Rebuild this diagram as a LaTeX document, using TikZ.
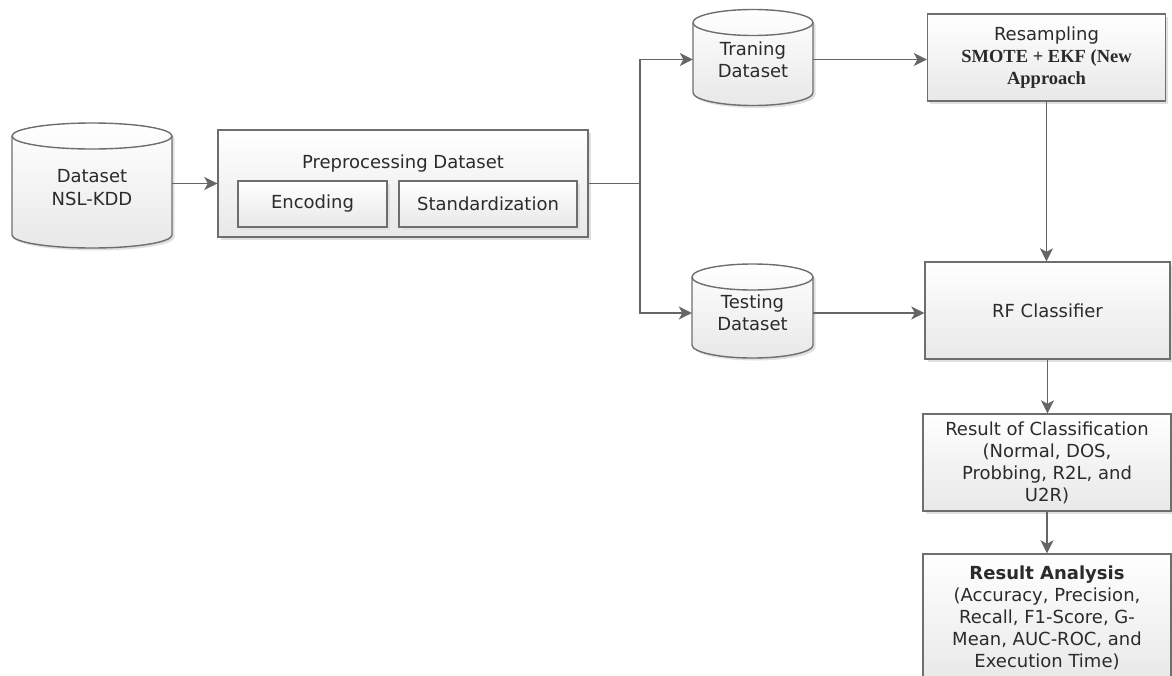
\documentclass[tikz,border=0pt]{standalone}
\usepackage{fontspec}
\setmainfont{DejaVu Sans}
\newfontfamily\serifbf{Liberation Serif}
\usetikzlibrary{arrows.meta,shadows,calc}
\definecolor{edgecol}{HTML}{6E6E6E}
\definecolor{conncol}{HTML}{666666}
\definecolor{txtcol}{HTML}{2B2B2B}
\tikzset{
  boxstyle/.style={draw=edgecol, line width=1.4pt, top color=white, bottom color=black!9,
    drop shadow={shadow xshift=2.5pt, shadow yshift=-2.5pt, fill=black!12, opacity=1},
    text=txtcol, align=center, font=\fontsize{18}{22}\selectfont, inner sep=0pt},
  cylfill/.style={draw=edgecol, line width=1.4pt, top color=white, bottom color=black!9,
    drop shadow={shadow xshift=2.5pt, shadow yshift=-2.5pt, fill=black!12, opacity=1}},
  cyledge/.style={draw=edgecol, line width=1.4pt},
  cyltext/.style={text=txtcol, align=center, font=\fontsize{18}{22}\selectfont, inner sep=0pt},
  connarrow/.style={draw=conncol, line width=1.6pt, -{Stealth[length=13pt,width=13pt,inset=3.5pt]}},
  plainline/.style={draw=conncol, line width=1.6pt},
}
\newcommand\dbcyl[6]{%
  \begin{scope}[shift={(#2,#3)}, x=1pt, y=1pt]
    \path[cylfill] (-#4/2,#5/2-13) -- (-#4/2,-#5/2+13)
      arc[start angle=180,end angle=360,x radius=#4/2,y radius=13]
      -- (#4/2,#5/2-13)
      arc[start angle=0,end angle=180,x radius=#4/2,y radius=13] -- cycle;
    \draw[cyledge] (-#4/2,#5/2-13) arc[start angle=180,end angle=360,x radius=#4/2,y radius=13];
    \node[cyltext, minimum width=#4pt, minimum height=#5pt] (#1) at (0,-2) {#6};
  \end{scope}}
\begin{document}
\begin{tikzpicture}[x=1pt,y=-1pt]
\clip (0,0) rectangle (1172,675);
\useasboundingbox (0,0) rectangle (1172,675);

% cylinders
\dbcyl{ds}{92}{185.5}{160}{125}{Dataset\\[1pt]NSL-KDD}
\dbcyl{tr}{753}{57.5}{120}{96}{Traning\\Dataset}
\dbcyl{te}{752.5}{311}{121}{94}{Testing\\Dataset}

% preprocessing
\node[boxstyle, minimum width=370pt, minimum height=107pt] (pre) at (403,183.5) {};
\node[text=txtcol, font=\fontsize{18}{22}\selectfont] (pretitle) at (403,164) {Preprocessing Dataset};
\node[boxstyle, minimum width=149pt, minimum height=46pt] (enc) at (312.5,204) {Encoding};
\node[boxstyle, minimum width=178pt, minimum height=46pt] (std) at (488,204) {Standardization};

% right column
\node[boxstyle, minimum width=238pt, minimum height=87pt] (rs) at (1046.5,57.5)
  {Resampling\\ {\serifbf\bfseries\fontsize{18.5}{22}\selectfont SMOTE + EKF (New}\\ {\serifbf\bfseries\fontsize{18.5}{22}\selectfont Approach}};
\node[boxstyle, minimum width=245pt, minimum height=97pt] (rf) at (1047.5,310.5) {RF Classifier};
\node[boxstyle, minimum width=248pt, minimum height=97pt] (rc) at (1047,462.5)
  {Result of Classification\\(Normal, DOS,\\Probbing, R2L, and\\U2R)};
\node[boxstyle, minimum width=248pt, minimum height=128pt] (ra) at (1047,618)
  {\textbf{Result Analysis}\\(Accuracy, Precision,\\Recall, F1-Score, G-\\Mean, AUC-ROC, and\\Execution Time)};

% connectors
\coordinate (split) at (640,183.5);
\draw[connarrow] (ds.east |- pre.west) -- (pre.west);
\draw[plainline] (pre.east) -- (split);
\draw[connarrow] (split) |- (tr.west);
\draw[connarrow] (split) |- (te.west);
\draw[connarrow] (tr.east) -- (tr.east -| rs.west);
\draw[connarrow] (te.east) -- (te.east -| rf.west);
\draw[connarrow] (rs.south) -- (rs.south |- rf.north);
\draw[connarrow] (rf.south) -- (rf.south |- rc.north);
\draw[connarrow] (rc.south) -- (rc.south |- ra.north);
\end{tikzpicture}
\end{document}
